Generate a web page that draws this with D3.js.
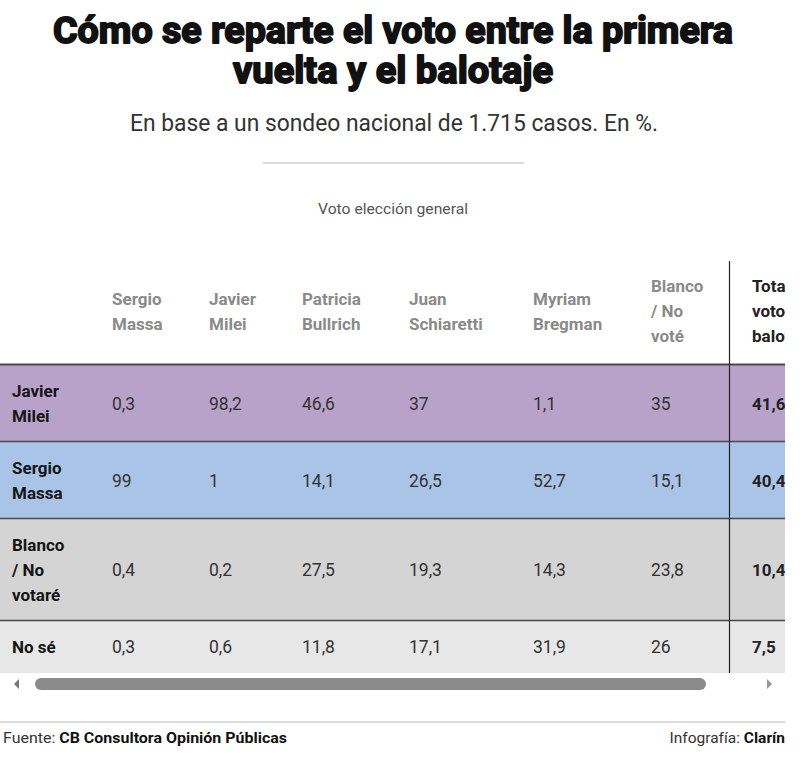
<!DOCTYPE html>
<html><head><meta charset="utf-8">
<script src="https://cdn.jsdelivr.net/npm/d3@7"></script>
<style>
html,body{margin:0;padding:0;background:#fff;}
svg{display:block;}
</style>
</head><body>
<svg id="chart" width="800" height="759"></svg>
<script>
// ---- data ----
const title = ["Cómo se reparte el voto entre la primera", "vuelta y el balotaje"];
const subtitle = "En base a un sondeo nacional de 1.715 casos. En %.";
const groupLabel = "Voto elección general";
const columns = [["Sergio","Massa"],["Javier","Milei"],["Patricia","Bullrich"],["Juan","Schiaretti"],["Myriam","Bregman"],["Blanco","/ No","voté"]];
const totalHeader = ["Total","votos","balotaje"];
const rowLabels = [["Javier","Milei"],["Sergio","Massa"],["Blanco","/ No","votaré"],["No sé"]];
const values = [
  ["0,3","98,2","46,6","37","1,1","35"],
  ["99","1","14,1","26,5","52,7","15,1"],
  ["0,4","0,2","27,5","19,3","14,3","23,8"],
  ["0,3","0,6","11,8","17,1","31,9","26"]
];
const totals = ["41,6","40,4","10,4","7,5"];
const rowColors = ["#b8a2c9","#aac4e7","#d4d4d4","#e7e7e7"];
const sourceLabel = "Fuente: ";
const sourceText = "CB Consultora Opinión Públicas";
const creditLabel = "Infografía: ";
const creditText = "Clarín";

// ---- layout ----
const svg = d3.select("#chart");
const FONT = "'Roboto',sans-serif";
const tableRight = 785;

// title
svg.selectAll("text.title").data(title).join("text")
  .attr("class","title")
  .attr("x", 393).attr("y",(d,i)=>43+i*40)
  .attr("text-anchor","middle")
  .attr("font-family","'Roboto',sans-serif")
  .attr("font-weight","bold")
  .attr("font-size",37)
  .attr("fill","#111")
  .attr("stroke","#111").attr("stroke-width",1.8).attr("stroke-linejoin","round")
  .attr("textLength",(d,i)=> i===0 ? 680 : 320)
  .attr("lengthAdjust","spacingAndGlyphs")
  .text(d=>d);

svg.append("text").attr("x",394).attr("y",131).attr("text-anchor","middle")
  .attr("font-family","'Roboto',sans-serif").attr("font-size",23).attr("fill","#333")
  .attr("textLength",528).attr("lengthAdjust","spacingAndGlyphs")
  .text(subtitle);

svg.append("line").attr("x1",263).attr("x2",524).attr("y1",163).attr("y2",163)
  .attr("stroke","#cfcfcf").attr("stroke-width",1.5);

svg.append("text").attr("x",393).attr("y",214).attr("text-anchor","middle")
  .attr("font-family","'Roboto',sans-serif").attr("font-size",14.5).attr("fill","#555")
  .attr("textLength",150).attr("lengthAdjust","spacingAndGlyphs")
  .text(groupLabel);

// table
const colKeys = d3.range(columns.length + 1);
const x = d3.scaleOrdinal().domain(colKeys).range([112,209,302,409,533,651,752]);
const labelX = 12, lineH = 25, pad = 27;
const headerTop = 261, headerBottom = 364;
const rowHeights = rowLabels.map(l => l.length*lineH + pad);
const rowTops = rowHeights.map((h,i)=> headerBottom + 1 + d3.sum(rowHeights.slice(0,i)));
const y = d3.scaleOrdinal().domain(d3.range(rowLabels.length)).range(rowTops);
const tableBottom = rowTops[rowTops.length-1] + rowHeights[rowHeights.length-1];

const defs = svg.append("defs");
defs.append("clipPath").attr("id","clip").append("rect")
  .attr("x",0).attr("y",headerTop-10).attr("width",tableRight).attr("height",tableBottom-headerTop+40);
const table = svg.append("g").attr("clip-path","url(#clip)");

function multiline(g, lines, xx, cy){
  const n = lines.length;
  lines.forEach((t,k)=>{
    g.append("text").attr("x",xx).attr("y", cy + (k-(n-1)/2)*lineH + 6).text(t);
  });
}
const headerMid = 311;
columns.forEach((c,j)=>{
  const g = table.append("g").attr("font-family",FONT).attr("font-weight","bold").attr("font-size",17).attr("fill","#8a8a8a");
  multiline(g, c, x(j), headerMid);
});
{
  const g = table.append("g").attr("font-family",FONT).attr("font-weight","bold").attr("font-size",17).attr("fill","#222");
  multiline(g, totalHeader, x(columns.length), headerMid);
}

// rows
const rows = table.selectAll("g.row").data(values).join("g").attr("class","row");
rows.append("rect")
  .attr("x",0).attr("y",(d,i)=>y(i)).attr("width",tableRight).attr("height",(d,i)=>rowHeights[i])
  .attr("fill",(d,i)=>rowColors[i]);
rows.each(function(d,i){
  const g = d3.select(this);
  const cy = y(i) + rowHeights[i]/2;
  const lg = g.append("g").attr("font-family",FONT).attr("font-weight","bold").attr("font-size",17).attr("fill","#151515");
  multiline(lg, rowLabels[i], labelX, cy);
  g.selectAll("text.val").data(d).join("text").attr("class","val")
    .attr("x",(v,j)=>x(j)).attr("y",cy+6)
    .attr("font-family",FONT).attr("font-size",17.5).attr("fill","#333")
    .text(v=>v);
  g.append("text").attr("x",x(columns.length)).attr("y",cy+6)
    .attr("font-family",FONT).attr("font-weight","bold").attr("font-size",17).attr("fill","#222")
    .text(totals[i]);
});
// row borders
table.selectAll("line.border").data(rowTops).join("line").attr("class","border")
  .attr("x1",0).attr("x2",tableRight).attr("y1",d=>d-0.5).attr("y2",d=>d-0.5)
  .attr("stroke","#4a4a4a").attr("stroke-width",(d,i)=> i===0 ? 2 : 1.5);
// vertical separator
table.append("line").attr("x1",729.5).attr("x2",729.5).attr("y1",headerTop).attr("y2",tableBottom)
  .attr("stroke","#222").attr("stroke-width",1.2);

// scrollbar
const sbY = tableBottom + 11;
svg.append("rect").attr("x",35).attr("y",sbY-6).attr("width",671).attr("height",12).attr("rx",6)
  .attr("fill","#8a8a8a");
svg.append("path").attr("d",`M19,${sbY-5} L14,${sbY} L19,${sbY+5}Z`).attr("fill","#777");
svg.append("path").attr("d",`M767,${sbY-5} L772,${sbY} L767,${sbY+5}Z`).attr("fill","#999");

// footer
svg.append("line").attr("x1",0).attr("x2",tableRight).attr("y1",722).attr("y2",722)
  .attr("stroke","#dcdcdc").attr("stroke-width",2);
const f1 = svg.append("text").attr("x",3).attr("y",743).attr("font-family",FONT).attr("font-size",15.5).attr("fill","#333")
  .attr("textLength",284).attr("lengthAdjust","spacingAndGlyphs");
f1.append("tspan").text(sourceLabel);
f1.append("tspan").attr("font-weight","bold").attr("fill","#111").text(sourceText);
const f2 = svg.append("text").attr("x",tableRight).attr("y",743).attr("text-anchor","end").attr("font-family",FONT).attr("font-size",15.5).attr("fill","#333");
f2.append("tspan").text(creditLabel);
f2.append("tspan").attr("font-weight","bold").attr("fill","#111").text(creditText);
</script>
</body></html>
